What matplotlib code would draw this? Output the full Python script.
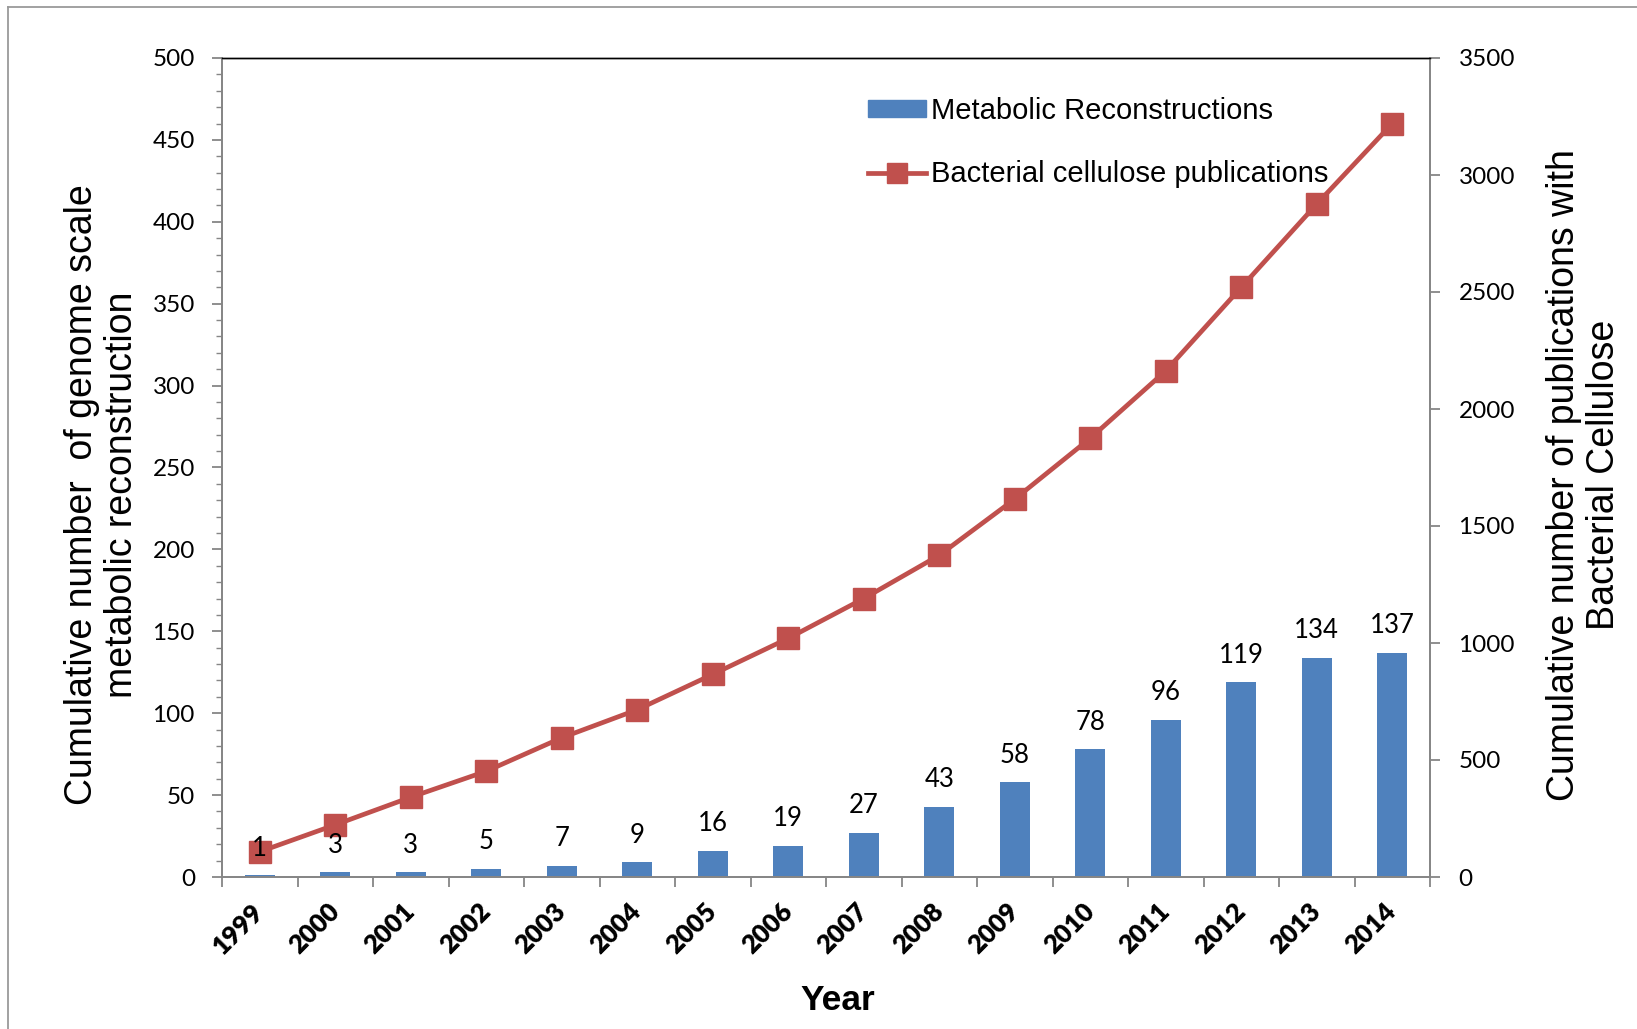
import matplotlib
matplotlib.use("Agg")
import matplotlib.pyplot as plt
from matplotlib.ticker import MultipleLocator, FixedLocator
from matplotlib.lines import Line2D

# Cumulative counts per year
years = ["1999", "2000", "2001", "2002", "2003", "2004", "2005", "2006",
         "2007", "2008", "2009", "2010", "2011", "2012", "2013", "2014"]
reconstructions = [1, 3, 3, 5, 7, 9, 16, 19, 27, 43, 58, 78, 96, 119, 134, 137]
publications = [108, 223, 341, 452, 595, 715, 866, 1020, 1190, 1375,
                1615, 1875, 2163, 2520, 2876, 3220]

BAR_COLOR = "#4F81BD"
LINE_COLOR = "#C0504D"
AXIS_GRAY = "#868686"
NUM_FONT = "Lato"
TXT_FONT = "Liberation Sans"

W, H = 1637, 1029
fig = plt.figure(figsize=(W / 100, H / 100), dpi=100)

# axes box in pixel coordinates
x0, x1, y_top, y_bot = 222, 1430, 58, 877
ax = fig.add_axes([x0 / W, 1 - y_bot / H, (x1 - x0) / W, (y_bot - y_top) / H])
ax2 = ax.twinx()

xs = list(range(len(years)))
ax.bar(xs, reconstructions, width=0.4, color=BAR_COLOR, zorder=2)
ax2.plot(xs, publications, color=LINE_COLOR, lw=3.4, marker="s",
         markersize=16, markeredgecolor=LINE_COLOR, zorder=3)

ax.set_xlim(-0.5, len(years) - 0.5)
ax.set_ylim(0, 500)
ax2.set_ylim(0, 3500)

# bar value labels, drawn above everything
for i, v in enumerate(reconstructions):
    ax2.annotate(str(v), xy=(i, v), xycoords=ax.transData,
                 xytext=(0, 14), textcoords="offset points",
                 ha="center", va="baseline", fontsize=18.5,
                 family=NUM_FONT, color="black", zorder=10)

# spines
for a in (ax, ax2):
    a.spines["top"].set_color("black")
    a.spines["top"].set_linewidth(1.0)
    a.spines["left"].set_color(AXIS_GRAY)
    a.spines["bottom"].set_color(AXIS_GRAY)
    a.spines["right"].set_color(AXIS_GRAY)
    for s in ("left", "bottom", "right"):
        a.spines[s].set_linewidth(1.3)

# left axis ticks
ax.yaxis.set_major_locator(MultipleLocator(50))
ax.yaxis.set_minor_locator(MultipleLocator(10))
ax.tick_params(axis="y", which="major", direction="out", length=7.5,
               width=1.3, color=AXIS_GRAY, pad=12, labelsize=17.5)
ax.tick_params(axis="y", which="minor", direction="out", length=4.5,
               width=1.0, color=AXIS_GRAY)
for lab in ax.get_yticklabels():
    lab.set_family(NUM_FONT)

# right axis ticks
ax2.yaxis.set_major_locator(MultipleLocator(500))
ax2.tick_params(axis="y", which="major", direction="out", length=7.5,
                width=1.3, color=AXIS_GRAY, pad=13, labelsize=17.5)
for lab in ax2.get_yticklabels():
    lab.set_family(NUM_FONT)

# x axis: labels at category centres, tick marks at boundaries
ax.xaxis.set_major_locator(FixedLocator(xs))
ax.xaxis.set_minor_locator(FixedLocator([i - 0.5 for i in range(len(years) + 1)]))
ax.set_xticks(xs)
ax.set_xticklabels(years)
ax.tick_params(axis="x", which="major", length=0, pad=22, labelsize=18.5)
ax.tick_params(axis="x", which="minor", direction="out", length=7,
               width=1.3, color=AXIS_GRAY)
for lab in ax.get_xticklabels():
    lab.set_family(NUM_FONT)
    lab.set_fontweight("heavy")
    lab.set_rotation(45)
    lab.set_ha("right")
    lab.set_va("center")
    lab.set_rotation_mode("anchor")

# axis titles
fig.text(102 / W, 1 - 495 / H,
         "Cumulative number  of genome scale\nmetabolic reconstruction",
         rotation=90, ha="center", va="center", multialignment="center",
         fontsize=27, family=TXT_FONT, linespacing=1.15)
fig.text(1584 / W, 1 - 475 / H,
         "Cumulative number of publications with\nBacterial Cellulose",
         rotation=90, ha="center", va="center", multialignment="center",
         fontsize=27, family=TXT_FONT, linespacing=1.15)
fig.text(838 / W, 1 - 1001 / H, "Year", ha="center", va="center",
         fontsize=25.5, fontweight="bold", family=TXT_FONT)

# legend
handles = [
    plt.Rectangle((0, 0), 1, 1, color=BAR_COLOR),
    Line2D([0], [0], color=LINE_COLOR, lw=3.4, marker="s", markersize=14,
           markeredgecolor=LINE_COLOR),
]
fig.legend(handles, ["Metabolic Reconstructions", "Bacterial cellulose publications"],
           loc="upper left", bbox_to_anchor=(868 / W, 1 - 97 / H),
           frameon=False, prop={"family": TXT_FONT, "size": 21},
           handlelength=2.0, handleheight=0.5, handletextpad=0.15,
           labelspacing=1.2, borderpad=0, borderaxespad=0)

# outer chart border (left and top edges)
fig.add_artist(Line2D([8 / W, 8 / W], [0, 1 - 7 / H], transform=fig.transFigure,
                      color="#9a9a9a", lw=1.3))
fig.add_artist(Line2D([8 / W, 1], [1 - 7 / H, 1 - 7 / H], transform=fig.transFigure,
                      color="#9a9a9a", lw=1.3))

fig.savefig("out.png", dpi=100, facecolor="white")
